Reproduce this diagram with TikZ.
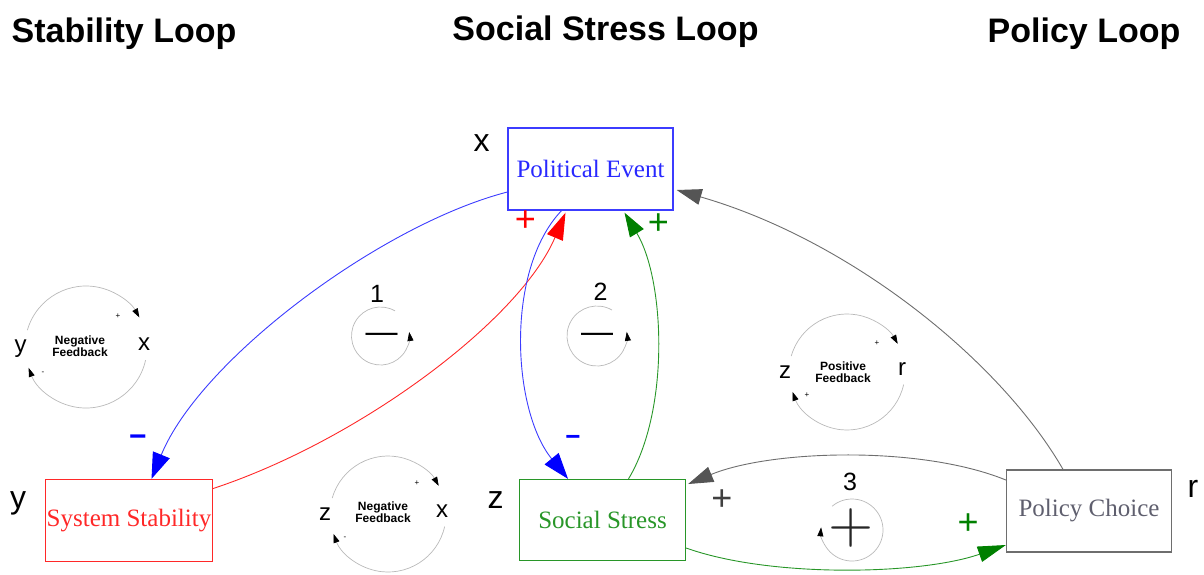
\documentclass[tikz,border=0pt]{standalone}
\usepackage{fontspec}
\setmainfont{Liberation Serif}
\setsansfont{Liberation Sans}
\newfontfamily\lmplus{lmroman10-regular}[Extension=.otf]
\usetikzlibrary{arrows.meta,calc}
\definecolor{pblue}{RGB}{40,40,255}
\definecolor{lblue}{RGB}{60,60,255}
\definecolor{pred}{RGB}{255,40,40}
\definecolor{pgreen}{RGB}{40,150,40}
\definecolor{dgreen}{RGB}{0,128,0}
\definecolor{pgray}{RGB}{110,110,110}
\definecolor{dgray}{RGB}{85,85,85}
\definecolor{tgray}{RGB}{95,95,110}
\definecolor{lgray}{RGB}{185,185,185}
\tikzset{
  box/.style={draw, line width=1.3pt, minimum width=165pt, minimum height=82pt, inner sep=0pt, font=\fontsize{25}{30}\selectfont},
  title/.style={font=\sffamily\bfseries\fontsize{34}{38}\selectfont, anchor=base, inner sep=0pt},
  var/.style={font=\sffamily\fontsize{32}{36}\selectfont, anchor=base, inner sep=0pt},
  fbvar/.style={font=\sffamily\fontsize{24}{26}\selectfont, anchor=base, inner sep=0pt},
  fbtext/.style={font=\sffamily\bfseries\fontsize{12}{12.5}\selectfont, align=center, inner sep=0pt},
  fbsign/.style={font=\sffamily\fontsize{8}{8}\selectfont, inner sep=0pt},
  fbarc/.style={draw=lgray, line width=0.7pt},
  num/.style={font=\sffamily\fontsize{25}{28}\selectfont, anchor=base, inner sep=0pt},
  sign/.style={font=\sffamily\fontsize{36}{38}\selectfont, inner sep=0pt},
  minussign/.style={font=\sffamily\bfseries\fontsize{30}{32}\selectfont, inner sep=0pt},
  conn/.style={line width=0.9pt},
  smallhead/.style={-{Triangle[length=9pt,width=6pt,fill=black,color=black]}},
}
\begin{document}
\begin{tikzpicture}[x=1pt,y=-1pt]
\useasboundingbox (0,0) rectangle (1204,574);
% titles
\node[title] (t1) at (124,42) {Stability Loop};
\node[title] (t2) at (605.5,40) {Social Stress Loop};
\node[title] (t3) at (1084,42) {Policy Loop};
% boxes
\node[box, draw=lblue, text=pblue] (pe) at (590.5,169) {Political Event};
\node[box, draw=pred, text=pred, minimum width=167pt] (sys) at (129,520.5) {System Stability};
\node[box, draw=pgreen, text=pgreen, minimum width=166pt, minimum height=81pt] (soc) at (602.5,520) {Social Stress};
\node[box, draw=pgray, text=tgray] (pol) at (1089,511) {Policy Choice};
% variable letters
\node[var] (vx) at (481.5,151.5) {x};
\node[var] (vy) at (18,508.5) {y};
\node[var] (vz) at (495.5,508) {z};
\node[var] (vr) at (1193,497) {r};
% connectors
\draw[conn, draw=lblue, arrows={-{Triangle[length=26pt,width=18pt,fill=blue,color=blue]}}]
  ($(pe.west)+(0,23)$) .. controls (380,225) and (200,360) .. ($(sys.north)+(22.5,0)$);
\draw[conn, draw=pred, arrows={-{Triangle[length=27pt,width=17pt,fill=red,color=red]}}]
  ($(sys.east)+(0,-32)$) .. controls (360,440) and (520,320) .. ($(pe.south)+(-25,2)$);
\draw[conn, draw=lblue, arrows={-{Triangle[length=26pt,width=18pt,fill=blue,color=blue]}}]
  ($(pe.south)+(-29,0)$) .. controls (505,270) and (512,410) .. ($(soc.north)+(-34.5,0)$);
\draw[conn, draw=pgreen, arrows={-{Triangle[length=24pt,width=16pt,fill=dgreen,color=dgreen]}}]
  ($(soc.north)+(26,0)$) .. controls (670,410) and (665,280) .. ($(pe.south)+(34,2)$);
\draw[conn, draw=pgray, arrows={-{Triangle[length=25pt,width=16pt,fill=dgray,color=dgray]}}]
  ($(pol.north)+(-26,0)$) .. controls (1000,360) and (850,240) .. ($(pe.east)+(3,21)$);
\draw[conn, draw=pgray, arrows={-{Triangle[length=25pt,width=16pt,fill=dgray,color=dgray]}}]
  ($(pol.west)+(0,-31)$) .. controls (920,445) and (770,450) .. ($(soc.east)+(2,-36)$);
\draw[conn, draw=pgreen, arrows={-{Triangle[length=28pt,width=16pt,fill=dgreen,color=dgreen]}}]
  ($(soc.east)+(0,28)$) .. controls (770,578) and (920,575) .. ($(pol.west)+(0,34)$);
% polarity signs
\node[sign, text=red] (s1) at (525.5,221) {+};
\node[sign, text=dgreen] (s2) at (658.5,224) {+};
\node[minussign, text=blue] (s3) at (138,441) {−};
\node[minussign, text=blue, font=\sffamily\bfseries\fontsize{26}{28}\selectfont] (s4) at (573,440) {−};
\node[sign, text=black!75] (s5) at (722,500) {+};
\node[sign, text=dgreen] (s6) at (968,524) {+};
% loop markers
\node[num] (n1) at (377,302) {1};
\node[num] (n2) at (600.5,300) {2};
\node[num] (n3) at (850,490) {3};
\coordinate (c1) at (380.5,336);
\coordinate (c2) at (597,336);
\coordinate (c3) at (852,530);
\draw[fbarc, smallhead] (c1) ++(-60:29) arc[start angle=-60, end angle=-368, radius=29];
\draw[fbarc, smallhead] (c2) ++(-60:30) arc[start angle=-60, end angle=-368, radius=30];
\draw[fbarc, smallhead] (c3) ++(-130:31) arc[start angle=-130, end angle=185, radius=31];
\node[font=\sffamily\fontsize{32}{32}\selectfont, inner sep=0pt] (m1) at (381.5,338) {—};
\node[font=\sffamily\fontsize{32}{32}\selectfont, inner sep=0pt] (m2) at (597,338) {—};
\node[font=\lmplus\fontsize{58}{58}\selectfont, inner sep=0pt, text=black!85] (p3) at (851,528) {+};
% feedback legends
\coordinate (f1) at (86,347);
\coordinate (f2) at (388,514);
\coordinate (f3) at (847,372);
\foreach \c/\r in {f1/61,f2/58,f3/58}{
  \draw[fbarc, smallhead] (\c) ++(-164:\r) arc[start angle=-164, end angle=-29, radius=\r];
  \draw[fbarc, smallhead] (\c) ++(12.5:\r) arc[start angle=12.5, end angle=160, radius=\r];
}
\node[fbtext] (ft1) at (80,346) {Negative\\Feedback};
\node[fbtext] (ft2) at (383,512) {Negative\\Feedback};
\node[fbtext] (ft3) at (843,372) {Positive\\Feedback};
\node[fbvar] (a1) at (20.5,352) {y};
\node[fbvar] (a2) at (144,350) {x};
\node[fbvar] (b1) at (325,520) {z};
\node[fbvar] (b2) at (442,517) {x};
\node[fbvar] (d1) at (785,378) {z};
\node[fbvar] (d2) at (902,375) {r};
\node[fbsign] (e1) at (118,316) {+};
\node[fbsign] (e2) at (43,373) {-};
\node[fbsign] (e3) at (417,483) {+};
\node[fbsign] (e4) at (345,538) {-};
\node[fbsign] (e5) at (877,343) {+};
\node[fbsign] (e6) at (807,395) {+};
\end{tikzpicture}
\end{document}
